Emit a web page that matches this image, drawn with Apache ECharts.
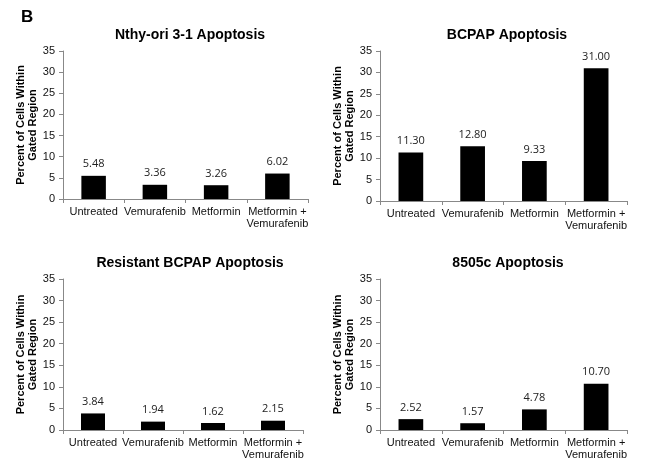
<!DOCTYPE html>
<html>
<head>
<meta charset="utf-8">
<script src="https://cdn.jsdelivr.net/npm/echarts@6/dist/echarts.min.js"></script>
<style>
  html, body { margin: 0; padding: 0; background: #fff; }
  #chart { width: 650px; height: 469px; }
</style>
</head>
<body>
<div id="chart"></div>
<script>
// treatment groups
const categories = ['Untreated', 'Vemurafenib', 'Metformin', 'Metformin +\nVemurafenib']
const yTicks = [0, 5, 10, 15, 20, 25, 30, 35]

// percent of cells within gated region, per cell line
const nthyValues = [5.48, 3.36, 3.26, 6.02]
const bcpapValues = [11.30, 12.80, 9.33, 31.00]
const resistantValues = [3.84, 1.94, 1.62, 2.15]
const c8505Values = [2.52, 1.57, 4.78, 10.70]

const panelTitles = ['Nthy-ori 3-1 Apoptosis', 'BCPAP Apoptosis', 'Resistant BCPAP Apoptosis', '8505c Apoptosis']
const panelValues = [nthyValues, bcpapValues, resistantValues, c8505Values]

// grid boxes (px)
const grids = [
  { left: 63, top: 51, width: 245, height: 148 },
  { left: 380, top: 51, width: 247, height: 150 },
  { left: 63, top: 279, width: 240, height: 151 },
  { left: 380, top: 279, width: 247, height: 151 }
]
const titlePos = [
  { left: 185, top: 23 },
  { left: 502, top: 23 },
  { left: 185, top: 251 },
  { left: 503, top: 251 }
]

const chart = echarts.init(document.getElementById('chart'))

const option = {
  animation: false,
  title: panelTitles.map((t, i) => ({
    text: t,
    left: titlePos[i].left,
    top: titlePos[i].top,
    textAlign: 'center',
    textStyle: { fontFamily: 'Liberation Sans', fontWeight: 'bold', fontSize: 14, color: '#000' }
  })),
  graphic: [{
    type: 'text',
    left: 21,
    top: 9,
    style: { text: 'B', font: 'bold 17px "Liberation Sans"', fill: '#000' }
  }],
  grid: grids,
  xAxis: grids.map((g, i) => ({
    type: 'category',
    gridIndex: i,
    data: categories,
    axisLine: { lineStyle: { color: '#888', width: 1 } },
    axisTick: { show: true, length: 4, lineStyle: { color: '#888' } },
    axisLabel: {
      interval: 0,
      margin: 7,
      fontFamily: 'Liberation Sans',
      fontSize: 11,
      color: '#111',
      lineHeight: 12
    }
  })),
  yAxis: grids.map((g, i) => ({
    type: 'value',
    gridIndex: i,
    min: 0,
    max: 35,
    interval: 5,
    name: 'Percent of Cells Within\nGated Region',
    nameLocation: 'middle',
    nameRotate: 90,
    nameGap: 22,
    nameTextStyle: { fontFamily: 'Liberation Sans', fontWeight: 'bold', fontSize: 11, color: '#000', lineHeight: 12 },
    splitLine: { show: false },
    axisLine: { show: true, lineStyle: { color: '#888', width: 1 } },
    axisTick: { show: true, length: 4, lineStyle: { color: '#888' } },
    axisLabel: {
      margin: 8,
      fontFamily: 'Liberation Sans',
      fontSize: 11,
      color: '#111',
      customValues: yTicks
    }
  })),
  series: panelValues.map((vals, i) => ({
    type: 'bar',
    xAxisIndex: i,
    yAxisIndex: i,
    data: vals,
    barWidth: '40%',
    itemStyle: { color: '#000' },
    label: {
      show: true,
      position: 'top',
      distance: 6,
      formatter: p => p.value.toFixed(2),
      fontFamily: 'Open Sans',
      fontSize: 11,
      color: '#222'
    }
  }))
}

chart.setOption(option)
</script>
</body>
</html>
